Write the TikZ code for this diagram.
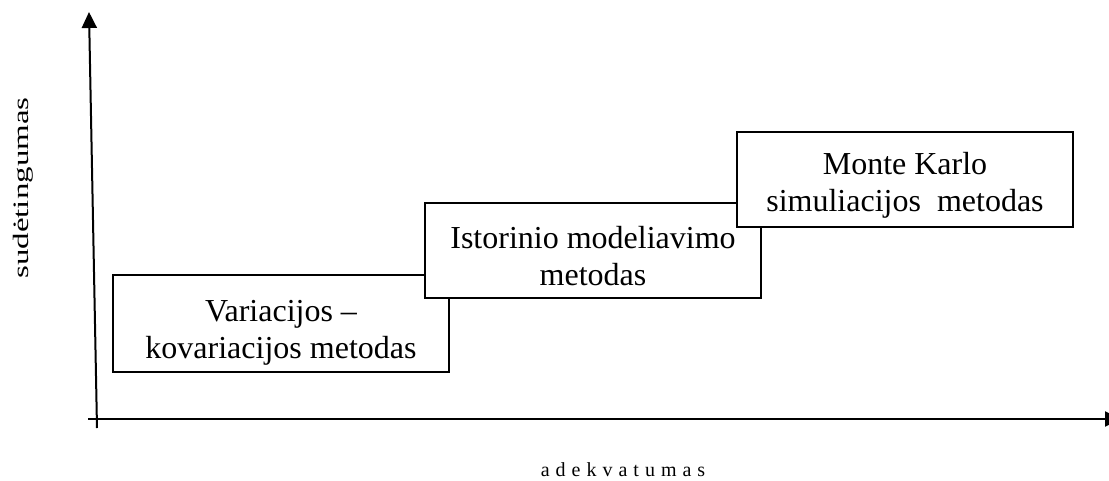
\documentclass[tikz,border=0pt]{standalone}
\usepackage{fontspec}
\setmainfont{Liberation Serif}
\newfontfamily\spacedfont[LetterSpace=30]{Liberation Serif}
\usetikzlibrary{arrows.meta}
\tikzset{
  methodbox/.style={draw=black, line width=2pt, fill=white, minimum width=336pt,
    inner sep=0pt},
  boxtext/.style={inner sep=0pt, align=center, font=\fontsize{32}{37}\selectfont},
  axis/.style={line width=2pt, -{Triangle[width=15pt,length=16pt]}},
}
\begin{document}
\begin{tikzpicture}[x=1pt,y=-1pt]
\useasboundingbox (0,0) rectangle (1109,480);
\clip (0,0) rectangle (1109,480);
\coordinate (yb) at (97,428);
\coordinate (yt) at (89,12);
\coordinate (xl) at (88,419);
\coordinate (xr) at (1121,419);
\draw[axis] (yb) -- (yt);
\draw[axis] (xl) -- (xr);
\node[methodbox, minimum height=97pt] (b1) at (281,323.5) {};
\node[boxtext] (t1) at ([yshift=-9pt]b1.center) {Variacijos --\\kovariacijos metodas};
\node[methodbox, minimum height=95pt] (b2) at (593,250.5) {};
\node[boxtext] (t2) at ([yshift=-6pt]b2.center) {Istorinio modeliavimo\\metodas};
\node[methodbox, minimum height=95pt] (b3) at (905,179.5) {};
\node[boxtext] (t3) at ([yshift=-6pt]b3.center) {Monte Karlo\\simuliacijos\ \ metodas};
\node[rotate=90, font=\fontsize{22}{26}\selectfont] (ylab) at (23,188) {\scalebox{1.5}[1]{sudėtingumas}};
\node[font=\spacedfont\fontsize{20}{24}\selectfont] (xlab) at (623,470) {adekvatumas};
\end{tikzpicture}
\end{document}
